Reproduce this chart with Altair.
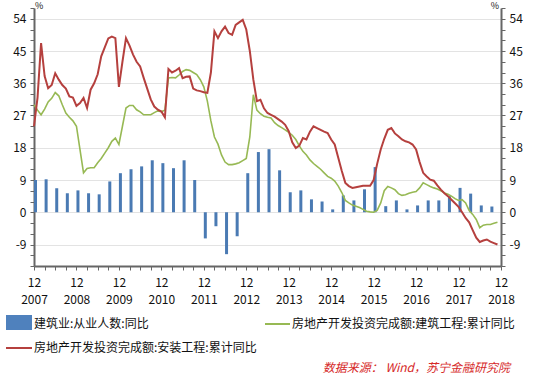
import altair as alt
import pandas as pd

# ---- data (month offset 0 = 2007-12) ----
red_install = [
    24.0, 32.0, 47.2, 38.0, 34.6, 35.5, 38.8, 37.0, 35.5, 34.5, 32.3, 32.0,
    29.7, 30.5, 31.9, 29.1, 34.2, 36.0, 38.5, 43.5, 46.0, 48.5, 49.0, 48.6,
    35.0, 42.0, 48.6, 46.5, 44.0, 42.0, 40.7, 37.5, 34.5, 31.5, 29.5, 28.6,
    28.1, 26.5, 40.0, 39.0, 39.5, 40.2, 37.4, 37.8, 37.9, 34.5, 34.0, 33.8,
    33.5, 33.3, 39.0, 50.5, 48.6, 50.5, 51.8, 50.0, 49.5, 52.3, 53.0, 53.7,
    51.0, 45.0, 37.0, 31.0, 31.4, 29.0, 27.7, 27.2, 26.7, 26.0, 25.3, 24.4,
    22.6, 19.5, 17.9, 18.6, 20.7, 20.3, 22.5, 24.0, 23.5, 23.0, 22.5, 22.1,
    20.3, 18.9, 15.2, 11.5, 8.2, 7.3, 6.8, 7.0, 7.2, 7.4, 7.4, 7.4,
    9.0, 13.5, 17.5, 20.5, 23.0, 23.5, 22.0, 21.2, 20.3, 19.8, 19.5, 18.9,
    17.5, 14.0, 11.0, 10.0, 9.1, 8.8, 7.5, 6.3, 5.3, 4.5, 3.5, 2.5,
    1.5, 0.0, -1.6, -2.8, -5.0, -7.1, -8.3, -7.9, -7.6, -8.2, -8.6, -9.0,
]
green_build = [
    30.0, 28.5, 27.2, 28.8, 30.8, 31.8, 33.4, 32.5, 30.0, 27.7, 26.5, 25.5,
    24.0, 17.5, 11.0, 12.2, 12.4, 12.4, 13.8, 15.0, 16.5, 18.0, 19.8, 20.7,
    18.9, 24.0, 29.1, 29.8, 29.8, 28.6, 28.0, 27.2, 27.2, 27.2, 27.8, 28.3,
    28.1, 28.5, 37.5, 37.6, 37.5, 38.3, 39.3, 39.8, 39.6, 39.0, 38.4, 37.0,
    35.0, 31.0, 25.5, 21.0, 19.0, 16.0, 14.0, 13.3, 13.3, 13.5, 13.8, 14.4,
    15.0, 21.0, 32.8, 28.5, 27.5, 26.8, 26.5, 26.3, 25.0, 24.2, 23.6, 23.0,
    22.3, 21.5, 20.3, 18.5, 17.0, 16.0, 14.6, 13.6, 12.8, 12.0, 11.0, 10.0,
    9.5, 8.7, 7.3, 5.5, 3.3, 2.6, 2.0, 1.7, 1.3, 0.8, 0.3, 0.1,
    0.0, 0.5, 2.6, 6.0, 7.2, 6.8, 6.3, 5.2, 4.7, 4.9, 5.3, 5.6,
    5.8, 6.8, 8.2, 7.7, 7.2, 6.8, 6.5, 6.0, 5.4, 5.0, 4.5, 3.8,
    3.3, 3.5, 2.6, 0.5, -0.6, -2.0, -4.3, -3.6, -3.4, -3.4, -3.1, -2.8,
]
# quarterly, 2007-12 .. 2018-09
employment = [
    9.0, 9.2, 6.7, 5.3, 6.1, 5.3, 5.0, 8.6, 10.9, 12.0, 12.8, 14.5,
    13.7, 12.3, 14.5, 9.0, -7.3, -3.9, -11.7, -6.7, 10.9, 16.8, 17.6, 11.7,
    5.6, 6.1, 3.6, 3.0, 0.8, 4.7, 3.3, 6.4, 12.6, 1.7, 3.3, 0.8,
    1.9, 3.3, 3.3, 4.5, 6.8, 5.2, 1.9, 1.6,
]
months = list(range(len(red_install)))
quarters = [3 * i for i in range(len(employment))]

name_bar = "建筑业:从业人数:同比"
name_green = "房地产开发投资完成额:建筑工程:累计同比"
name_red = "房地产开发投资完成额:安装工程:累计同比"
source = "数据来源： Wind，苏宁金融研究院"

df_lines = pd.DataFrame({"m": months, "green": green_build, "red": red_install})
df_bars = pd.DataFrame({"m": quarters, "emp": employment})
one = pd.DataFrame({"a": [0]})

W, H = 467, 258
FONT = "Noto Sans CJK SC"
AX = "#666666"
C_BAR = "#4a7ab3"
C_GREEN = "#97b954"
C_RED = "#b5403e"

xs = alt.Scale(domain=[0, 132], nice=False, zero=False, padding=0)
ys = alt.Scale(domain=[-15, 57], nice=False, zero=False, padding=0)
y_vals = list(range(-15, 58, 3))
x_vals = list(range(0, 133, 3))

common_axis = dict(
    domainColor=AX, domainWidth=2, tickColor=AX, tickWidth=1, tickSize=4,
    labelColor="#111111", labelFont=FONT, labelFontSize=12, labelOverlap=False,
    title=None,
)

x_axis = alt.Axis(
    values=x_vals, orient="bottom",
    labelExpr="datum.value % 12 == 0 ? ['12', '' + (2007 + datum.value / 12)] : ''",
    labelLineHeight=17, labelPadding=7, grid=False, labelFlush=False,
    **common_axis,
)
y_label_expr = "datum.value % 9 == 0 ? datum.value : ''"
left_axis = alt.Axis(
    values=y_vals, orient="left", labelExpr=y_label_expr, labelPadding=4,
    grid=True,
    gridColor={"condition": {"test": "datum.value % 9 === 0", "value": "#e3e3e3"},
               "value": "transparent"},
    gridWidth=1,
    **common_axis,
)
right_axis = alt.Axis(
    values=y_vals, orient="right", labelExpr=y_label_expr, labelPadding=4,
    grid=False, **common_axis,
)

bars = alt.Chart(df_bars).mark_bar(size=3, color=C_BAR, xOffset=1.5).encode(
    x=alt.X("m:Q", scale=xs, axis=x_axis),
    y=alt.Y("emp:Q", scale=ys, axis=left_axis),
)
green = alt.Chart(df_lines).mark_line(color=C_GREEN, strokeWidth=1.6).encode(
    x=alt.X("m:Q", scale=xs, axis=None),
    y=alt.Y("green:Q", scale=ys, axis=None),
)
red = alt.Chart(df_lines).mark_line(color=C_RED, strokeWidth=2).encode(
    x=alt.X("m:Q", scale=xs, axis=None),
    y=alt.Y("red:Q", scale=ys, axis=right_axis),
)

# legend & annotations
leg_rect = alt.Chart(one).mark_rect(color="#4f81bd").encode(
    x=alt.value(-28), x2=alt.value(-2), y=alt.value(307), y2=alt.value(322))
leg_t1 = alt.Chart(one).mark_text(align="left", baseline="middle", font=FONT,
                                  fontSize=12, color="#111111", text=name_bar).encode(
    x=alt.value(0), y=alt.value(316))
leg_g = alt.Chart(one).mark_rule(color=C_GREEN, strokeWidth=2).encode(
    x=alt.value(231), x2=alt.value(256), y=alt.value(316))
leg_t2 = alt.Chart(one).mark_text(align="left", baseline="middle", font=FONT,
                                  fontSize=12, color="#111111", text=name_green).encode(
    x=alt.value(258), y=alt.value(316))
leg_r = alt.Chart(one).mark_rule(color=C_RED, strokeWidth=2).encode(
    x=alt.value(-28), x2=alt.value(-2), y=alt.value(340))
leg_t3 = alt.Chart(one).mark_text(align="left", baseline="middle", font=FONT,
                                  fontSize=12, color="#111111", text=name_red).encode(
    x=alt.value(0), y=alt.value(340))
src = alt.Chart(one).mark_text(align="right", baseline="middle", font=FONT,
                               fontSize=12, fontStyle="italic", color="#d62828",
                               text=source).encode(
    x=alt.value(476), y=alt.value(360))
pct_l = alt.Chart(one).mark_text(align="left", baseline="middle", font=FONT,
                                 fontSize=9, color="#111111", text="%").encode(
    x=alt.value(1), y=alt.value(-2))
pct_r = alt.Chart(one).mark_text(align="right", baseline="middle", font=FONT,
                                 fontSize=9, color="#111111", text="%").encode(
    x=alt.value(465), y=alt.value(-2))

chart = alt.layer(
    bars, green, red, leg_rect, leg_t1, leg_g, leg_t2, leg_r, leg_t3, src, pct_l, pct_r
).resolve_axis(x="independent", y="independent").properties(
    width=W, height=H,
    autosize=alt.AutoSizeParams(type="none"),
    padding={"left": 34, "top": 8, "right": 33, "bottom": 112},
    background="white",
).configure_view(stroke=None)

chart.save("out.html", embed_options={"renderer": "svg", "actions": False})
